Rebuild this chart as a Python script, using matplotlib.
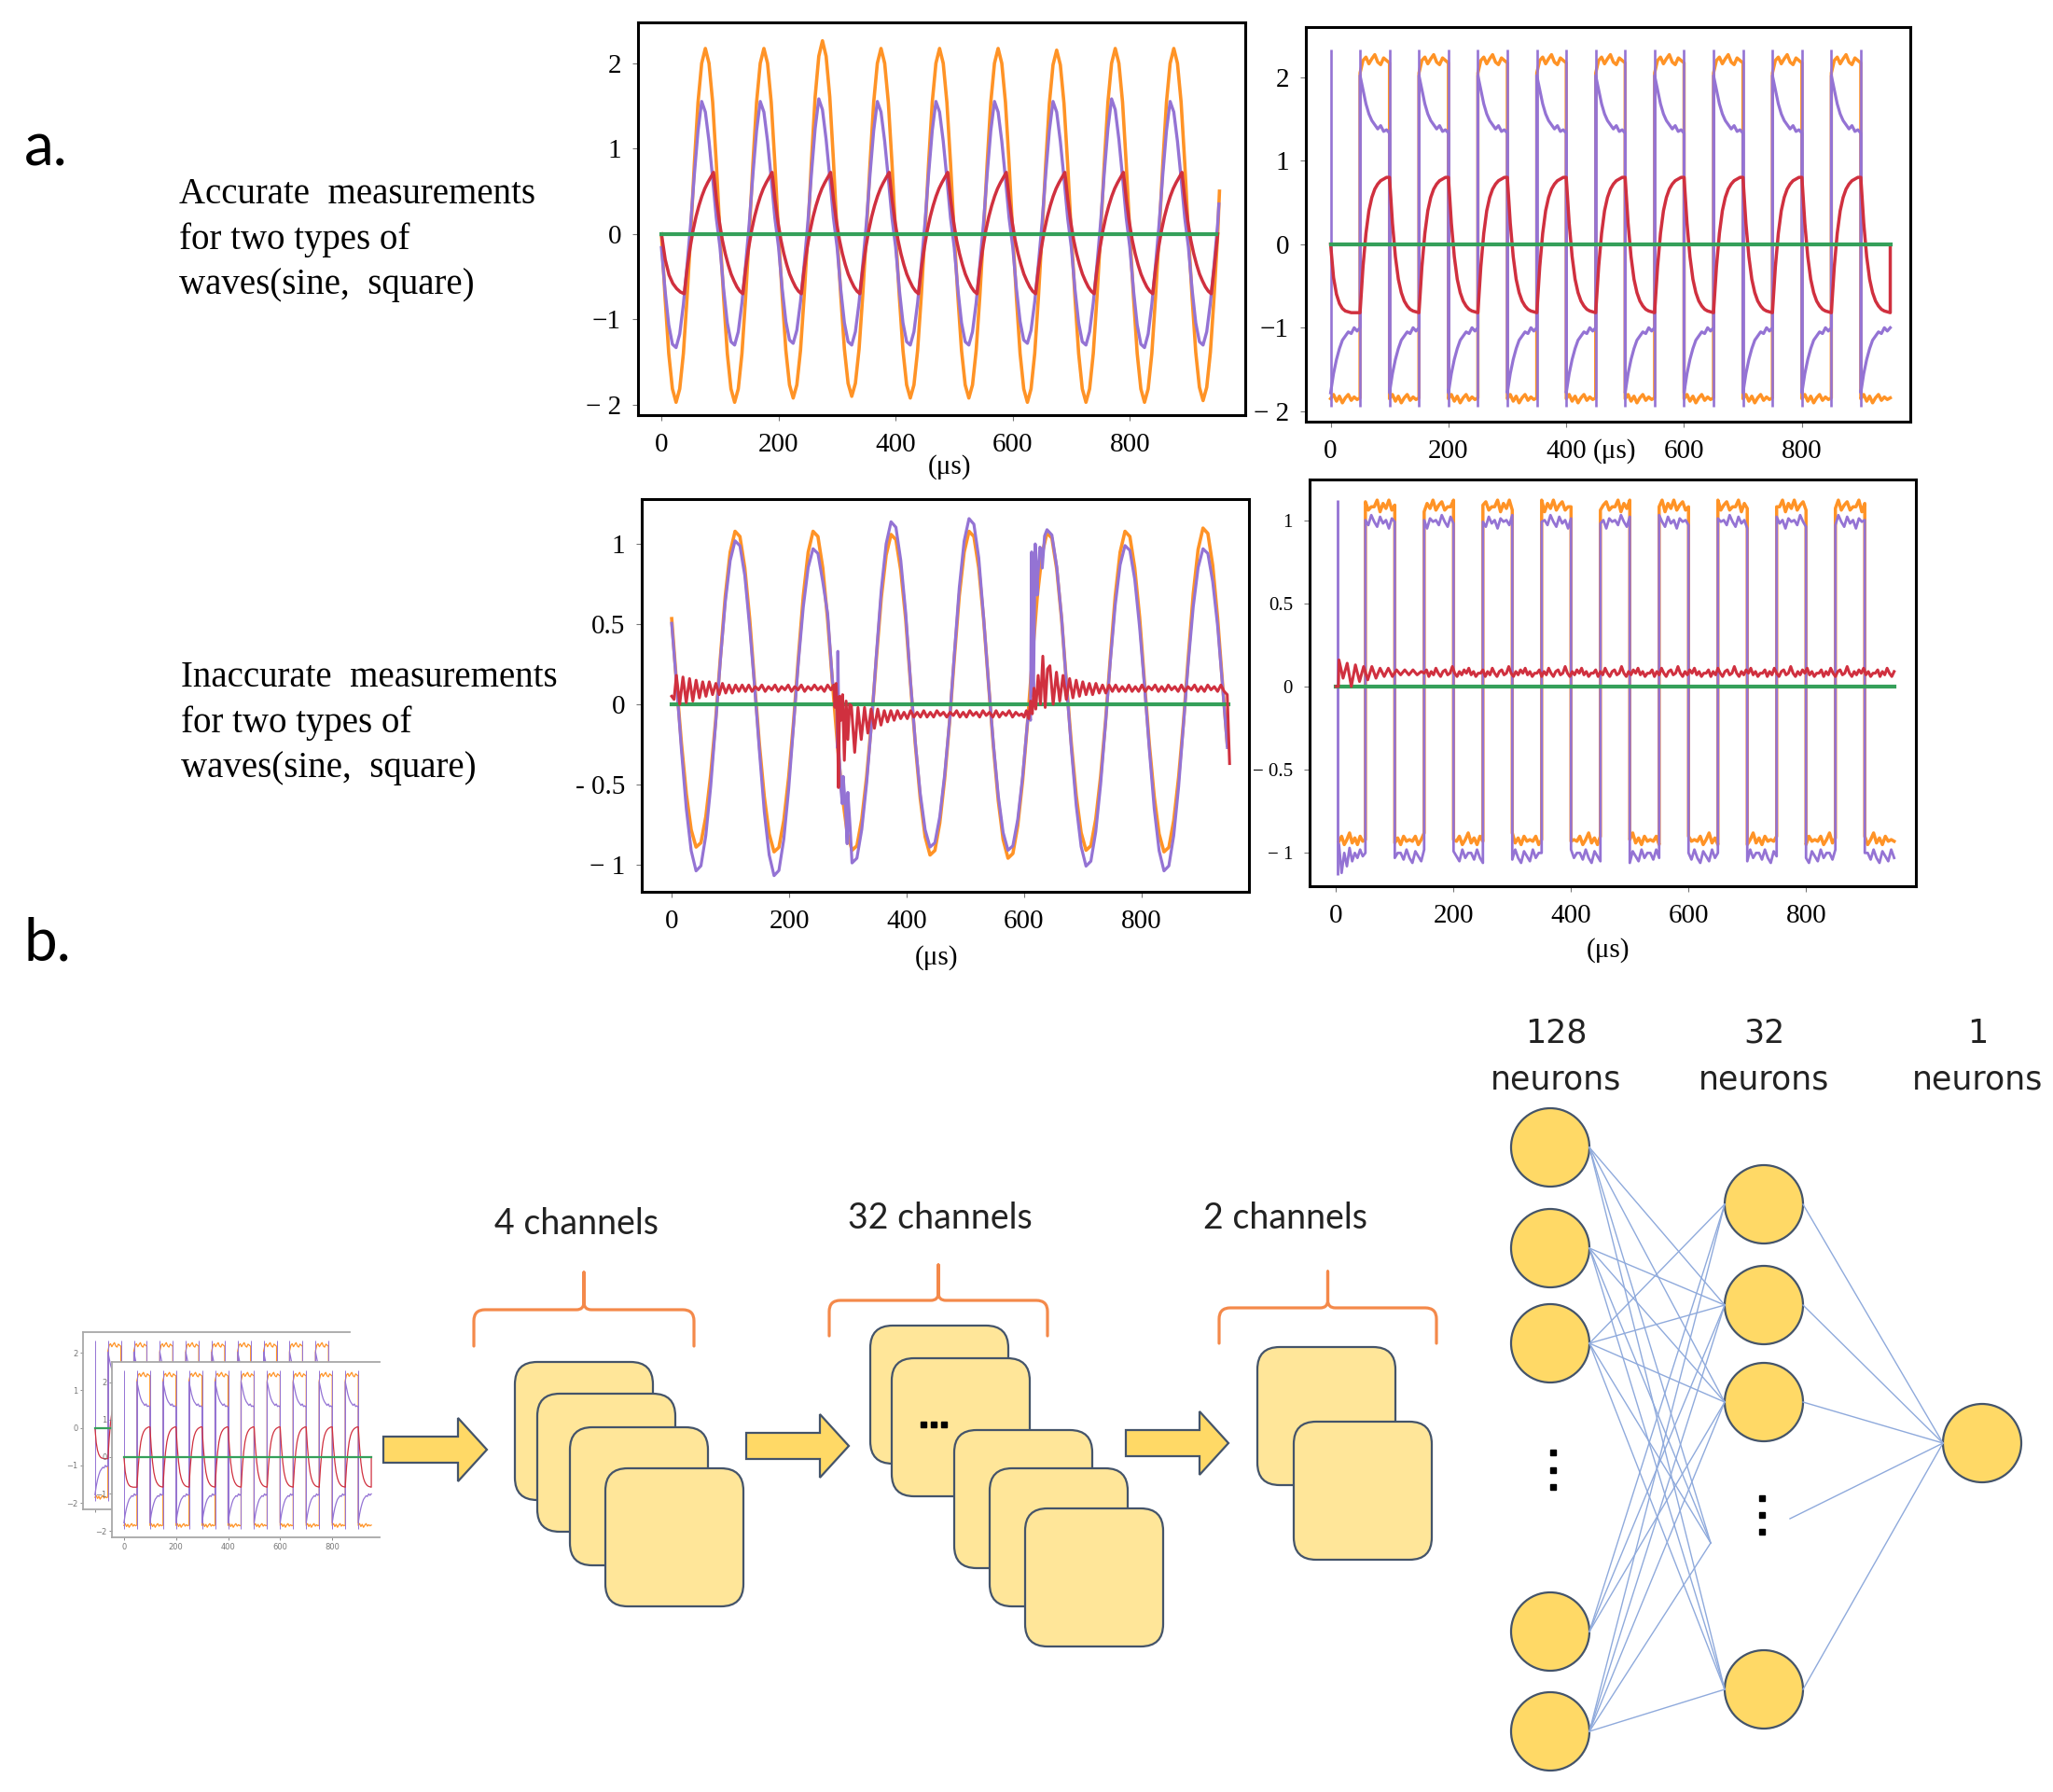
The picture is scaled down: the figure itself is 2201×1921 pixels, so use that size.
import numpy as np
import matplotlib
matplotlib.use("Agg")
import matplotlib.pyplot as plt
from matplotlib.patches import FancyBboxPatch, Circle, Polygon, PathPatch
from matplotlib.path import Path

plt.rcParams["font.family"] = "Liberation Serif"

W, H = 2201, 1921

ORANGE = "#ff9326"
PURPLE = "#9473d4"
RED = "#d0303f"
GREEN = "#35a05a"
GOLD = "#ffd966"
PALE = "#ffe699"
EDGE = "#44546a"
BRACE = "#f4894a"
WIRE = "#8faadc"

ticks_us = [0, 200, 400, 600, 800]

# ---------------- a. top left: accurate sine (period 100 us, 16 samples / period)
sine_shape = [0.0, -0.38, -0.71, -0.92, -1.0, -0.92, -0.71, -0.38,
              0.0, 0.38, 0.71, 0.92, 1.0, 0.92, 0.71, 0.38]
s1_orange_peaks = [2.17, 2.17, 2.26, 2.17, 2.17, 2.17, 2.15, 2.17, 2.17, 2.17]
s1_orange_troughs = [-1.97, -1.97, -1.92, -1.9, -1.92, -1.92, -1.97, -1.97, -1.97, -1.95]
s1_purple_shape = [-0.12, -0.5, -0.8, -0.97, -1.0, -0.88, -0.62, -0.28,
                   0.08, 0.45, 0.78, 1.0, 0.92, 0.7, 0.42, 0.12]
s1_purple_peaks = [1.55, 1.55, 1.58, 1.55, 1.55, 1.55, 1.55, 1.58, 1.55, 1.55]
s1_purple_troughs = [-1.33, -1.3, -1.28, -1.3, -1.3, -1.3, -1.28, -1.3, -1.33, -1.3]
s1_red_start_t = [0, 6.5, 13, 19.5, 26, 32.5, 39]
s1_red_start = [0.0, -0.3, -0.48, -0.58, -0.64, -0.68, -0.70]
s1_red_cycle = [-0.70, -0.40, -0.16, 0.04, 0.20, 0.33, 0.44, 0.53, 0.60, 0.66,
                0.72, 0.40, 0.14, -0.07, -0.23, -0.36, -0.47, -0.55, -0.62, -0.67]

# ---------------- a. top right: accurate square (half period 50 us)
sq_orange_low = [-1.85, -1.8, -1.88, -1.82, -1.9, -1.84, -1.8, -1.87, -1.83, -1.86, -1.84]
sq_orange_high = [2.05, 2.2, 2.24, 2.16, 2.22, 2.27, 2.18, 2.15, 2.23, 2.2, 2.17]
sq_purple_low = [-1.78, -1.55, -1.38, -1.25, -1.15, -1.1, -1.05, -1.07, -1.0, -1.04, -1.0]
sq_purple_high = [2.02, 1.85, 1.68, 1.56, 1.48, 1.43, 1.38, 1.42, 1.35, 1.37, 1.33]
sq_red_first = [0.0, -0.4, -0.6, -0.71, -0.77, -0.8, -0.81, -0.82, -0.82, -0.82, -0.82]
sq_red_rise = [-0.82, -0.27, 0.13, 0.4, 0.56, 0.66, 0.72, 0.76, 0.78, 0.8, 0.8]
sq_red_fall = [0.8, 0.25, -0.15, -0.42, -0.58, -0.68, -0.74, -0.78, -0.8, -0.81, -0.82]
sq_spike_lo, sq_spike_hi = -1.95, 2.33

# ---------------- a. bottom left: inaccurate sine (period 132.8 us)
p3_period = 132.8
p3_shape = [0.49, 0.12, -0.27, -0.62, -0.87, -0.99, -0.96, -0.78,
            -0.49, -0.12, 0.27, 0.62, 0.87, 0.99, 0.96, 0.78]
p3_orange_peaks = [1.09, 1.09, 1.07, 1.09, 1.08, 1.09, 1.11, 1.1]
p3_orange_troughs = [-0.9, -0.93, -0.92, -0.95, -0.97, -0.92, -0.93, -0.95]
p3_purple_peaks = [1.03, 0.98, 1.15, 1.17, 1.1, 1.0, 0.98, 1.0]
p3_purple_troughs = [-1.05, -1.08, -1.0, -0.9, -0.92, -1.02, -1.05, -1.0]
p3_pglitch1_t = [281, 283, 285, 288, 292, 296, 300, 304]
p3_pglitch1_v = [0.05, 0.33, -0.3, -0.52, -0.45, -0.65, -0.55, -0.78]
p3_pglitch2_t = [608, 611, 613, 616, 619, 623, 627, 631, 635]
p3_pglitch2_v = [-0.05, -0.1, 0.95, 0.05, 1.0, 0.78, 0.98, 0.85, 1.05]
p3_red_hi1 = [0.18, 0.17, 0.16, 0.15, 0.14, 0.14, 0.13, 0.13, 0.12, 0.12, 0.12, 0.12,
              0.11, 0.12, 0.11, 0.12, 0.11, 0.12, 0.11, 0.12, 0.11, 0.12, 0.11, 0.12]
p3_red_lo1 = [0.0, 0.01, 0.02, 0.04, 0.05, 0.06, 0.06, 0.07, 0.07, 0.08, 0.08, 0.08,
              0.09, 0.08, 0.09, 0.08, 0.09, 0.08, 0.09, 0.08, 0.09, 0.09, 0.08, 0.09]
p3_rglitch1_t = [276, 278, 280, 282, 284, 286, 288, 291, 294, 297, 300, 303]
p3_rglitch1_v = [0.12, -0.02, 0.13, -0.05, -0.52, 0.05, -0.1, 0.06, -0.35, 0.02, -0.22, 0.0]
p3_red_hi2 = [-0.01, -0.02, -0.02, -0.03, -0.03, -0.04, -0.04, -0.04, -0.05, -0.04, -0.05, -0.04, -0.05,
              -0.04, -0.05, -0.05, -0.04, -0.05, -0.04, -0.05, -0.04, -0.05, -0.04, -0.05, -0.04, -0.05]
p3_red_lo2 = [-0.3, -0.22, -0.18, -0.15, -0.13, -0.11, -0.1, -0.09, -0.09, -0.08, -0.08, -0.08, -0.08,
              -0.07, -0.08, -0.07, -0.08, -0.08, -0.07, -0.08, -0.07, -0.08, -0.08, -0.07, -0.08, -0.07]
p3_rglitch2_t = [596, 600, 604, 608, 611, 614, 617, 620, 624, 628, 632, 636, 640]
p3_rglitch2_v = [-0.06, -0.08, -0.04, -0.09, 0.02, -0.06, 0.1, -0.03, 0.18, 0.0, 0.3, -0.02, 0.22]
p3_red_hi3 = [0.24, 0.2, 0.18, 0.16, 0.15, 0.14, 0.13, 0.13, 0.12, 0.12, 0.12, 0.11, 0.12, 0.11,
              0.12, 0.11, 0.12, 0.11, 0.12, 0.11, 0.12, 0.11, 0.12, 0.11, 0.12, 0.11, 0.12]
p3_red_lo3 = [0.0, 0.02, 0.03, 0.04, 0.05, 0.06, 0.06, 0.07, 0.07, 0.08, 0.08, 0.08, 0.08, 0.08,
              0.08, 0.09, 0.08, 0.08, 0.09, 0.08, 0.08, 0.09, 0.08, 0.08, 0.09, 0.08, 0.08]

# ---------------- a. bottom right: inaccurate square
p4_orange_low = [-0.93, -0.9, -0.95, -0.92, -0.88, -0.94, -0.91, -0.95, -0.9, -0.93, -0.92]
p4_orange_high = [1.08, 1.12, 1.05, 1.1, 1.07, 1.12, 1.06, 1.09, 1.11, 1.06, 1.08]
p4_purple_first = [-0.95, -1.12, -1.0, -1.08, -0.97, -1.05, -1.0, -1.03, -0.98, -1.02, -1.0]
p4_purple_low = [-1.0, -1.04, -0.98, -1.03, -1.06, -0.99, -1.02, -1.05, -0.98, -1.03, -1.0]
p4_purple_high = [1.0, 0.97, 1.03, 0.99, 0.96, 1.02, 0.98, 1.0, 0.95, 1.01, 0.99]
p4_red_ring = [0.16, 0.05, 0.14, 0.0, 0.13, 0.03, 0.12, 0.04, 0.12, 0.05, 0.11,
               0.06, 0.11, 0.06, 0.1, 0.07, 0.1, 0.07, 0.1, 0.07, 0.09]
p4_red_noise = [0.08, 0.1, 0.06, 0.09, 0.07, 0.11, 0.08, 0.06, 0.09, 0.1, 0.07, 0.08,
                0.12, 0.08, 0.06, 0.09, 0.07, 0.1, 0.08, 0.11, 0.07, 0.09, 0.06, 0.08]

# ---------------- b. network diagram
l1_x, l1_y = 1662, [1230, 1338, 1440, 1749, 1856]
l2_x, l2_y = 1891, [1291, 1399, 1503, 1811]
out_xy = (2125, 1547)
hidden_pt = (1834, 1654)
wires_12 = {0: [1, 2, 3, 4], 1: [1, 2, 3, 4], 2: [0, 1, 2, 3, 4], 3: [0, 1, 2], 4: [0, 1, 2, 3, 4]}


def tile(shape, period, t0, t1):
    step = period / len(shape)
    t = np.arange(t0, t1 + 1e-6, step)
    return t, np.resize(np.asarray(shape, float), len(t))


def per_cycle(t, v, period, peaks, troughs):
    c = np.clip((t // period).astype(int), 0, len(peaks) - 1)
    return np.where(v > 0, v * np.asarray(peaks)[c], -v * np.asarray(troughs)[c])


def halves(edges, parts):
    ts = [np.linspace(edges[i], edges[i + 1], len(p)) for i, p in enumerate(parts)]
    return np.concatenate(ts), np.concatenate(parts)


def ring(t0, step, hi, lo):
    n = min(len(hi), len(lo))
    v = np.ravel(np.column_stack([hi[:n], lo[:n]]))
    return t0 + step * np.arange(len(v)), v


def merge(*pairs):
    t = np.concatenate([np.asarray(p[0], float) for p in pairs])
    v = np.concatenate([np.asarray(p[1], float) for p in pairs])
    o = np.argsort(t, kind="stable")
    return t[o], v[o]


# ---- build series
t, v = tile(sine_shape, 100, 0, 950)
s1_o = merge((t, per_cycle(t, v, 100, s1_orange_peaks, s1_orange_troughs)), ([953], [0.5]))
t, v = tile(s1_purple_shape, 100, 0, 950)
s1_p = merge((t, per_cycle(t, v, 100, s1_purple_peaks, s1_purple_troughs)), ([952], [0.35]))
t, v = tile(s1_red_cycle, 100, 39, 944)
s1_r = (np.r_[s1_red_start_t, t[1:], 950], np.r_[s1_red_start, v[1:], 0.0])

sq_edges = np.arange(0, 951, 50)
s2_o = halves(sq_edges, [sq_orange_low, sq_orange_high] * 9 + [sq_orange_low])
s2_p = halves(sq_edges, [sq_purple_low, sq_purple_high] * 9 + [sq_purple_low])
t, v = halves(sq_edges, [sq_red_first] + [sq_red_rise, sq_red_fall] * 9)
s2_r = (np.r_[t, 950], np.r_[v, 0.0])

t, v = tile(p3_shape, p3_period, 0, 950)
s3_o = (t, per_cycle(t, v, p3_period, p3_orange_peaks, p3_orange_troughs))
s3_p = merge((t, per_cycle(t, v, p3_period, p3_purple_peaks, p3_purple_troughs)),
             (p3_pglitch1_t, p3_pglitch1_v), (p3_pglitch2_t, p3_pglitch2_v))
s3_r = merge(([0, 4], [0.05, 0.03]), ring(8, 5.6, p3_red_hi1, p3_red_lo1),
             (p3_rglitch1_t, p3_rglitch1_v), ring(306, 5.6, p3_red_hi2, p3_red_lo2),
             (p3_rglitch2_t, p3_rglitch2_v), ring(644, 5.6, p3_red_hi3, p3_red_lo3),
             ([946, 950], [0.06, -0.37]))

p4_edges = np.r_[5, np.arange(50, 951, 50)]
s4_o = halves(p4_edges, [np.roll(p, 3 * i) for i, p in
                         enumerate([p4_orange_low, p4_orange_high] * 9 + [p4_orange_low])])
s4_p = halves(p4_edges, [p4_purple_first] + [np.roll(p, 2 * i) for i, p in
                                             enumerate([p4_purple_high, p4_purple_low] * 9)])
s4_r = merge(([0, 4], [0.0, 0.0]), (5 + 7 * np.arange(len(p4_red_ring)), p4_red_ring),
             tile(p4_red_noise, 4 * len(p4_red_noise), 150, 950))

# ---------------- figure
fig = plt.figure(figsize=(W / 100, H / 100), dpi=100)
ov = fig.add_axes([0, 0, 1, 1])
ov.set_xlim(0, W)
ov.set_ylim(H, 0)
ov.axis("off")


def px_axes(left, top, right, bottom, **kw):
    return fig.add_axes([left / W, 1 - bottom / H, (right - left) / W, (bottom - top) / H], **kw)


def style_panel(ax, xlim, ylim, yticks, ylabels, ysize=21):
    ax.set_xlim(*xlim)
    ax.set_ylim(*ylim)
    ax.set_xticks(ticks_us)
    ax.set_xticklabels([str(x) for x in ticks_us], fontsize=21)
    ax.set_yticks(yticks)
    ax.set_yticklabels(ylabels, fontsize=ysize)
    for s in ax.spines.values():
        s.set_linewidth(2.2)
        s.set_color("black")
    ax.tick_params(axis="y", length=4, width=0.8, color="#777", pad=9)
    ax.tick_params(axis="x", length=4, width=0.8, color="#777", pad=10)


ax1 = px_axes(684, 24, 1335, 445)
ax1.plot(*s1_o, color=ORANGE, lw=2.6)
ax1.plot(*s1_p, color=PURPLE, lw=2.4)
ax1.plot(*s1_r, color=RED, lw=2.5)
ax1.plot([0, 948], [0, 0], color=GREEN, lw=3.0)
style_panel(ax1, (-40, 997), (-2.12, 2.475), [2, 1, 0, -1, -2], ["2", "1", "0", "−1", "− 2"])

ax2 = px_axes(1400, 29, 2048, 452)
ax2.plot(*s2_o, color=ORANGE, lw=2.5)
ax2.plot(*s2_p, color=PURPLE, lw=2.3)
ax2.vlines(sq_edges[:-1], sq_spike_lo, sq_spike_hi, color=PURPLE, lw=1.9)
ax2.plot(*s2_r, color=RED, lw=2.5)
ax2.plot([0, 950], [0, 0], color=GREEN, lw=3.0)
style_panel(ax2, (-42, 984), (-2.125, 2.6), [2, 1, 0, -1, -2], ["2", "1", "0", "−1", "− 2"])

ax3 = px_axes(688, 535, 1339, 956)
ax3.plot(*s3_o, color=ORANGE, lw=2.6)
ax3.plot(*s3_p, color=PURPLE, lw=2.3)
ax3.plot([0, 948], [0, 0], color=GREEN, lw=3.0)
ax3.plot(*s3_r, color=RED, lw=2.2)
style_panel(ax3, (-51, 983), (-1.17, 1.28), [1, 0.5, 0, -0.5, -1], ["1", "0.5", "0", "- 0.5", "− 1"])

ax4 = px_axes(1404, 514, 2054, 950)
ax4.plot(*s4_o, color=ORANGE, lw=2.5)
ax4.plot(*s4_p, color=PURPLE, lw=2.0)
ax4.vlines([3], -1.13, 1.12, color=PURPLE, lw=2.0)
ax4.plot([0, 950], [0, 0], color=GREEN, lw=3.0)
ax4.plot(*s4_r, color=RED, lw=2.2)
style_panel(ax4, (-45, 987), (-1.2, 1.244), [1, 0.5, 0, -0.5, -1], ["1", "0.5", "0", "− 0.5", "− 1"], ysize=15)

for x, y in [(1018, 501), (1731, 484), (1004, 1027), (1724, 1019)]:
    ov.text(x, y, "(μs)", fontsize=21, ha="center", va="center")

# ---- thumbnail of the input (square wave)
for (l, tp, r, b), show_x in [((89, 1428, 375, 1618), False), ((120, 1460, 407, 1648), True)]:
    th = px_axes(l, tp, r, b, facecolor="white")
    th.plot(*s2_o, color=ORANGE, lw=0.9)
    th.plot(*s2_p, color=PURPLE, lw=0.9)
    th.vlines(sq_edges[:-1], sq_spike_lo, sq_spike_hi, color=PURPLE, lw=0.7)
    th.plot(*s2_r, color=RED, lw=0.9)
    th.plot([0, 950], [0, 0], color=GREEN, lw=1.6)
    th.set_xlim(-46, 982)
    th.set_ylim(-2.17, 2.55)
    th.set_yticks([2, 1, 0, -1, -2])
    th.set_yticklabels(["2", "1", "0", "−1", "−2"], family="DejaVu Sans")
    th.set_xticks(ticks_us)
    th.set_xticklabels([str(x) for x in ticks_us] if show_x else [], family="DejaVu Sans")
    th.tick_params(labelsize=6, colors="#777", length=2, width=0.6, pad=2)
    th.spines["right"].set_visible(False)
    for s in ("top", "left", "bottom"):
        th.spines[s].set_color("#a8a8a8")
        th.spines[s].set_linewidth(1.3)

# ---- text labels
ov.text(26, 178, "a.", fontsize=46, family="Lato", va="baseline")
ov.text(26, 1030, "b.", fontsize=46, family="Lato", va="baseline")
for i, line in enumerate(["Accurate  measurements", "for two types of", "waves(sine,  square)"]):
    ov.text(192, 218 + 48.5 * i, line, fontsize=28, va="baseline")
for i, line in enumerate(["Inaccurate  measurements", "for two types of", "waves(sine,  square)"]):
    ov.text(194, 736 + 48.5 * i, line, fontsize=28, va="baseline")

for x, y, s in [(618, 1312, "4 channels"), (1008, 1306, "32 channels"), (1378, 1306, "2 channels")]:
    ov.text(x, y, s, fontsize=27, family="Lato", ha="center", va="center", color="#222")

for x, n in [(1668, "128"), (1891, "32"), (2120, "1")]:
    ov.text(x, 1108, n, fontsize=25, family="DejaVu Sans", ha="center", va="center", color="#222")
    ov.text(x, 1158, "neurons", fontsize=25, family="DejaVu Sans", ha="center", va="center", color="#222")


# ---- braces
def brace(x0, x1, y_tip, y_mid, y_end, r=12):
    xc = (x0 + x1) / 2
    verts = [(x0, y_end), (x0, y_mid + r), (x0, y_mid), (x0 + r, y_mid),
             (xc - 8, y_mid), (xc, y_mid), (xc, y_mid - 8), (xc, y_tip),
             (xc, y_mid - 8), (xc, y_mid), (xc + 8, y_mid),
             (x1 - r, y_mid), (x1, y_mid), (x1, y_mid + r), (x1, y_end)]
    codes = [Path.MOVETO, Path.LINETO, Path.CURVE3, Path.CURVE3,
             Path.LINETO, Path.CURVE3, Path.CURVE3, Path.LINETO,
             Path.LINETO, Path.CURVE3, Path.CURVE3,
             Path.LINETO, Path.CURVE3, Path.CURVE3, Path.LINETO]
    ov.add_patch(PathPatch(Path(verts, codes), fill=False, ec=BRACE, lw=2.3,
                           capstyle="round", joinstyle="round"))


brace(508, 744, 1364, 1404, 1443)
brace(889, 1123, 1356, 1394, 1432)
brace(1307, 1540, 1363, 1402, 1440)

# ---- feature map stacks
stacks = [[(552, 1460), (576, 1494), (611, 1530), (649, 1574)],
          [(933, 1421), (956, 1456), (1023, 1533), (1061, 1574), (1099, 1617)],
          [(1348, 1444), (1387, 1524)]]
for stack in stacks:
    for x, y in stack:
        ov.add_patch(FancyBboxPatch((x, y), 148, 148, boxstyle="round,pad=0,rounding_size=24",
                                    fc=PALE, ec=EDGE, lw=1.6))
    if len(stack) == 5:
        ov.plot([990, 1001, 1012], [1527, 1527, 1527], "s", ms=4.5, color="black")

# ---- arrows
for x0, xh, xt, yc in [(411, 491, 522, 1554), (800, 879, 910, 1550), (1207, 1286, 1317, 1547)]:
    pts = [(x0, yc - 14), (xh, yc - 14), (xh, yc - 34), (xt, yc),
           (xh, yc + 34), (xh, yc + 14), (x0, yc + 14)]
    ov.add_patch(Polygon(pts, closed=True, fc=GOLD, ec=EDGE, lw=1.6))

# ---- dense layers
R = 42
l2_ends = [(l2_x - R, y) for y in l2_y] + [hidden_pt]
for i, targets in wires_12.items():
    for j in targets:
        ov.plot([l1_x + R, l2_ends[j][0]], [l1_y[i], l2_ends[j][1]], color=WIRE, lw=1.0)
for y in l2_y:
    ov.plot([l2_x + R, out_xy[0] - R], [y, out_xy[1]], color=WIRE, lw=1.0)
ov.plot([1919, out_xy[0] - R], [1628, out_xy[1]], color=WIRE, lw=1.0)

for y in l1_y:
    ov.add_patch(Circle((l1_x, y), R, fc=GOLD, ec=EDGE, lw=1.6))
for y in l2_y:
    ov.add_patch(Circle((l2_x, y), R, fc=GOLD, ec=EDGE, lw=1.6))
ov.add_patch(Circle(out_xy, R, fc=GOLD, ec=EDGE, lw=1.6))
ov.plot([1665] * 3, [1557, 1576, 1594], "s", ms=5, color="black")
ov.plot([1889] * 3, [1606, 1624, 1642], "s", ms=5, color="black")

fig.savefig("out.png", dpi=100)
